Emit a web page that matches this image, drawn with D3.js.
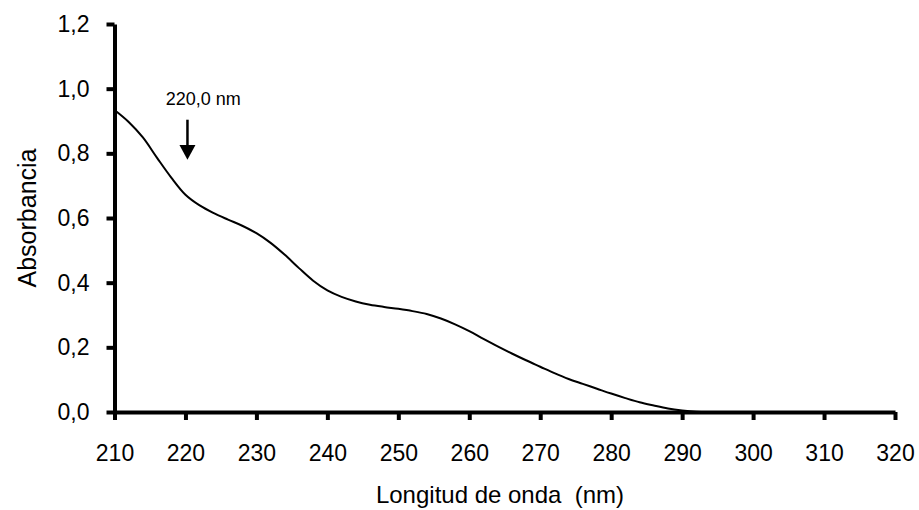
<!DOCTYPE html>
<html>
<head>
<meta charset="utf-8">
<script src="https://cdn.jsdelivr.net/npm/d3@7"></script>
<style>
  body { margin: 0; background: #fff; }
  text { font-family: "Liberation Sans", Arial, sans-serif; fill: #000; }
</style>
</head>
<body>
<svg id="chart"></svg>
<script>
// wavelength (nm) and absorbance
const wavelength = [210, 212, 214, 216, 218, 220, 222, 224, 226, 228, 230, 232, 234, 236, 238,
    240, 242, 244, 246, 248, 250, 252, 254, 256, 258, 260, 262, 264, 266, 268, 270, 272, 274,
    276, 278, 280, 282, 284, 286, 288, 290, 292, 294, 300, 310, 320];
const absorbance = [0.934, 0.897, 0.849, 0.786, 0.725, 0.672, 0.639, 0.615, 0.595, 0.576, 0.553,
    0.523, 0.486, 0.445, 0.406, 0.376, 0.356, 0.342, 0.332, 0.325, 0.319, 0.312, 0.303, 0.289,
    0.271, 0.250, 0.226, 0.203, 0.181, 0.160, 0.140, 0.120, 0.102, 0.087, 0.072, 0.057, 0.043,
    0.030, 0.020, 0.011, 0.005, 0.001, 0, 0, 0, 0];
const xTicks = [210, 220, 230, 240, 250, 260, 270, 280, 290, 300, 310, 320];
const yTicks = [0, 0.2, 0.4, 0.6, 0.8, 1.0, 1.2];
const peakLabel = "220,0 nm";
const peakAt = 220;

const width = 919;
const height = 510;

const svg = d3.select('#chart')
    .attr('width', width)
    .attr('height', height);

const x = d3.scaleLinear().domain([210, 320]).range([114.5, 895]);
const y = d3.scaleLinear().domain([0, 1.2]).range([412, 24]);

const comma = d => d3.format('.1f')(d).replace('.', ',');

const xAxis = svg.append('g')
    .attr('transform', `translate(0,${y(0)})`)
    .call(d3.axisBottom(x).tickValues(xTicks).tickSize(8).tickSizeOuter(0).tickPadding(25));

const yAxis = svg.append('g')
    .attr('transform', `translate(${x(210)},0)`)
    .call(d3.axisLeft(y).tickValues(yTicks).tickFormat(comma).tickSize(8).tickSizeOuter(0).tickPadding(17));

[xAxis, yAxis].forEach(a => {
    a.select('.domain').attr('stroke', '#000').attr('stroke-width', 4);
    a.selectAll('.tick line').attr('stroke', '#000').attr('stroke-width', 4);
    a.selectAll('.tick text')
        .style('font-size', '23px')
        .attr('fill', '#000');
});

const points = wavelength.map((w, i) => [w, absorbance[i]]);

svg.append('path')
    .datum(points)
    .attr('fill', 'none')
    .attr('stroke', '#000')
    .attr('stroke-width', 2)
    .attr('stroke-linejoin', 'round')
    .attr('d', d3.line()
        .x(d => x(d[0]))
        .y(d => y(d[1]))
        .curve(d3.curveCatmullRom.alpha(0.5)));

// annotation arrow
const ax = x(peakAt) + 2;
svg.append('line')
    .attr('x1', ax).attr('x2', ax)
    .attr('y1', y(0.904)).attr('y2', y(0.82))
    .attr('stroke', '#000')
    .attr('stroke-width', 2.5);
svg.append('path')
    .attr('d', `M${ax - 8},${y(0.826)} L${ax + 8},${y(0.826)} L${ax},${y(0.78)} Z`)
    .attr('fill', '#000');

svg.append('text')
    .attr('x', x(222.5))
    .attr('y', y(0.95))
    .attr('text-anchor', 'middle')
    .style('font-size', '18px')
    .text(peakLabel);

svg.append('text')
    .attr('x', 500)
    .attr('y', 503)
    .attr('text-anchor', 'middle')
    .style('font-size', '24px')
    .style('white-space', 'pre')
    .text('Longitud de onda  (nm)');

svg.append('text')
    .attr('transform', `translate(36,${(y(0) + y(1.2)) / 2}) rotate(-90)`)
    .attr('text-anchor', 'middle')
    .style('font-size', '25px')
    .text('Absorbancia');
</script>
</body>
</html>
